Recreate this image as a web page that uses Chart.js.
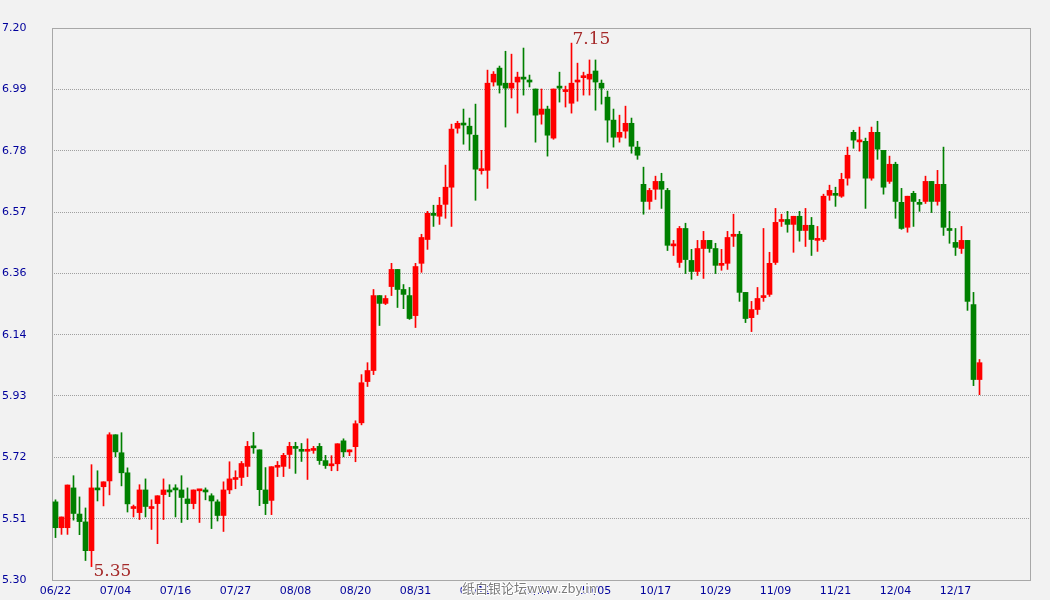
<!DOCTYPE html>
<html>
<head>
<meta charset="utf-8">
<title>纸白银 K线</title>
<script src="https://cdn.jsdelivr.net/npm/chart.js@4.4.1/dist/chart.umd.min.js"></script>
<style>
  html, body { margin: 0; padding: 0; background: #f2f2f2; }
  canvas { display: block; }
</style>
</head>
<body>
<canvas id="chart" width="1050" height="600"></canvas>
<script>
const xTickLabels = ['06/22','07/04','07/16','07/27','08/08','08/20','08/31','09/12',
                     '09/24','10/05','10/17','10/29','11/09','11/21','12/04','12/17']
const yTickLabels = ['5.30','5.51','5.72','5.93','6.14','6.36','6.57','6.78','6.99','7.20']

const opens = [
  5.569,5.480,5.480,5.617,5.527,5.500,5.401,5.617,5.621,5.641,
  5.800,5.738,5.669,5.546,5.532,5.610,5.546,5.563,5.594,5.610,
  5.617,5.610,5.579,5.563,5.607,5.610,5.590,5.569,5.522,5.610,
  5.646,5.653,5.691,5.759,5.748,5.610,5.574,5.688,5.691,5.732,
  5.760,5.748,5.743,5.746,5.760,5.711,5.693,5.700,5.779,5.741,
  5.759,5.841,5.983,6.021,6.279,6.252,6.310,6.369,6.300,6.279,
  6.210,6.390,6.472,6.562,6.552,6.593,6.652,6.855,6.872,6.862,
  6.831,6.709,6.710,7.014,7.062,7.010,6.993,7.014,7.031,7.021,
  6.990,6.903,6.921,6.821,7.000,6.981,6.941,7.014,7.029,7.024,
  7.052,7.010,6.962,6.883,6.824,6.845,6.872,6.790,6.662,6.603,
  6.645,6.672,6.641,6.450,6.393,6.510,6.400,6.362,6.441,6.469,
  6.441,6.383,6.390,6.483,6.490,6.290,6.203,6.231,6.272,6.283,
  6.393,6.534,6.541,6.524,6.552,6.503,6.521,6.469,6.472,6.624,
  6.631,6.621,6.683,6.841,6.808,6.810,6.683,6.841,6.779,6.672,
  6.731,6.600,6.514,6.631,6.600,6.603,6.672,6.603,6.662,6.510,
  6.462,6.441,6.469,6.248,5.990
]
const highs = [
  5.576,5.517,5.627,5.659,5.586,5.548,5.697,5.676,5.638,5.807,
  5.800,5.807,5.686,5.558,5.628,5.648,5.576,5.590,5.648,5.628,
  5.628,5.659,5.617,5.610,5.612,5.617,5.597,5.576,5.638,5.707,
  5.676,5.708,5.777,5.808,5.748,5.687,5.690,5.708,5.736,5.774,
  5.774,5.770,5.786,5.760,5.770,5.729,5.728,5.769,5.786,5.748,
  5.848,6.007,6.048,6.300,6.279,6.279,6.390,6.369,6.317,6.307,
  6.390,6.490,6.569,6.590,6.617,6.728,6.869,6.879,6.921,6.890,
  6.938,6.779,7.055,7.050,7.069,7.120,7.110,7.048,7.131,7.038,
  6.990,6.990,6.931,6.990,7.048,7.000,7.148,7.079,7.048,7.090,
  7.090,7.021,6.983,6.921,6.900,6.931,6.890,6.810,6.721,6.648,
  6.690,6.700,6.648,6.469,6.517,6.528,6.438,6.469,6.500,6.469,
  6.459,6.438,6.500,6.559,6.500,6.290,6.259,6.307,6.510,6.428,
  6.579,6.559,6.569,6.552,6.569,6.579,6.548,6.517,6.628,6.659,
  6.652,6.700,6.790,6.848,6.859,6.821,6.859,6.879,6.779,6.759,
  6.738,6.648,6.621,6.638,6.610,6.690,6.672,6.710,6.790,6.569,
  6.510,6.517,6.469,6.290,6.059
]
const lows = [
  5.446,5.457,5.457,5.506,5.456,5.367,5.346,5.572,5.555,5.593,
  5.724,5.624,5.534,5.517,5.508,5.517,5.474,5.425,5.508,5.587,
  5.517,5.498,5.508,5.545,5.498,5.576,5.477,5.503,5.467,5.597,
  5.614,5.625,5.656,5.736,5.556,5.525,5.525,5.656,5.656,5.684,
  5.667,5.708,5.646,5.736,5.698,5.684,5.676,5.676,5.724,5.728,
  5.707,5.834,5.966,6.007,6.176,6.248,6.279,6.238,6.234,6.197,
  6.169,6.359,6.438,6.517,6.524,6.545,6.517,6.838,6.800,6.779,
  6.607,6.697,6.648,7.000,6.976,6.859,6.959,6.907,6.969,6.997,
  6.807,6.869,6.759,6.817,6.945,6.928,6.907,6.948,6.969,6.969,
  6.917,6.938,6.807,6.790,6.807,6.821,6.769,6.748,6.559,6.576,
  6.610,6.579,6.434,6.417,6.376,6.355,6.335,6.348,6.338,6.428,
  6.355,6.366,6.369,6.448,6.259,6.186,6.155,6.214,6.259,6.276,
  6.386,6.517,6.497,6.428,6.466,6.448,6.417,6.431,6.465,6.607,
  6.586,6.617,6.659,6.786,6.776,6.579,6.676,6.748,6.628,6.665,
  6.545,6.507,6.497,6.517,6.569,6.596,6.565,6.590,6.486,6.459,
  6.417,6.424,6.228,5.969,5.938
]
const closes = [
  5.480,5.517,5.627,5.529,5.501,5.401,5.617,5.610,5.638,5.800,
  5.741,5.669,5.562,5.549,5.610,5.553,5.548,5.590,5.610,5.603,
  5.610,5.584,5.563,5.610,5.610,5.603,5.572,5.522,5.610,5.648,
  5.648,5.701,5.760,5.755,5.611,5.563,5.690,5.690,5.729,5.760,
  5.753,5.743,5.748,5.748,5.711,5.694,5.700,5.769,5.741,5.748,
  5.838,5.979,6.021,6.279,6.252,6.269,6.369,6.300,6.283,6.200,
  6.379,6.479,6.562,6.555,6.590,6.652,6.852,6.872,6.866,6.835,
  6.714,6.711,7.010,7.041,7.003,6.993,7.010,7.031,7.024,7.014,
  6.900,6.921,6.831,6.990,6.993,6.983,7.010,7.021,7.031,7.041,
  7.014,6.993,6.883,6.824,6.841,6.872,6.793,6.762,6.603,6.641,
  6.672,6.645,6.452,6.452,6.510,6.403,6.362,6.441,6.469,6.441,
  6.383,6.390,6.479,6.490,6.290,6.200,6.231,6.269,6.279,6.390,
  6.531,6.541,6.524,6.552,6.503,6.521,6.472,6.472,6.621,6.641,
  6.624,6.679,6.762,6.814,6.810,6.683,6.841,6.783,6.652,6.731,
  6.603,6.510,6.621,6.603,6.593,6.672,6.603,6.662,6.514,6.503,
  6.445,6.469,6.259,5.990,6.048
]

const yMin = 5.30
const yMax = 7.20
const red = '#ff0000'
const green = '#008000'
const navy = '#00009c'

const candleColor = ctx => closes[ctx.dataIndex] >= opens[ctx.dataIndex] ? red : green

// frame round the plot and the watermark under the axis
const framePlugin = {
  id: 'frame',
  beforeDatasetsDraw(chart) {
    const {ctx, chartArea: a} = chart
    ctx.save()
    ctx.strokeStyle = '#a8a8a8'
    ctx.lineWidth = 1
    ctx.strokeRect(Math.round(a.left) + 0.5, Math.round(a.top) + 0.5,
                   Math.round(a.right - a.left), Math.round(a.bottom - a.top))
    ctx.restore()
  },
  afterDraw(chart) {
    const ctx = chart.ctx
    ctx.save()
    ctx.font = '13px "Noto Sans CJK SC"'
    ctx.lineWidth = 2
    ctx.strokeStyle = '#ffffff'
    ctx.fillStyle = '#7a7a7a'
    ctx.strokeText('纸白银论坛www.zby.in', 462, 593)
    ctx.fillText('纸白银论坛www.zby.in', 462, 593)
    ctx.restore()
  }
}

// highest high and lowest low written next to their candles
const extremesPlugin = {
  id: 'extremes',
  afterDatasetsDraw(chart) {
    const {ctx, scales: {x, y}} = chart
    const hi = Math.max(...highs)
    const lo = Math.min(...lows)
    const hiIdx = highs.indexOf(hi)
    const loIdx = lows.indexOf(lo)
    ctx.save()
    ctx.font = '17px "DejaVu Serif"'
    ctx.fillStyle = '#a52a2a'
    ctx.textAlign = 'left'
    ctx.textBaseline = 'alphabetic'
    ctx.fillText(hi.toFixed(2), x.getPixelForValue(hiIdx) + 1, y.getPixelForValue(hi) + 0.5)
    ctx.fillText(lo.toFixed(2), x.getPixelForValue(loIdx) + 2, y.getPixelForValue(lo) + 9.5)
    ctx.restore()
  }
}

Chart.defaults.font.family = '"DejaVu Sans", Verdana, sans-serif'

const ctx = document.getElementById('chart').getContext('2d')
const myChart = new Chart(ctx, {
  type: 'bar',
  data: {
    datasets: [
      {
        label: 'body',
        data: opens.map((o, i) => ({x: i, y: [o, closes[i]]})),
        backgroundColor: candleColor,
        borderWidth: 0,
        barThickness: 5,
        minBarLength: 2,
        grouped: false
      },
      {
        label: 'wick',
        data: highs.map((h, i) => ({x: i, y: [lows[i], h]})),
        backgroundColor: candleColor,
        borderWidth: 0,
        barThickness: 1,
        grouped: false
      }
    ]
  },
  options: {
    responsive: false,
    animation: false,
    layout: { padding: { left: 2, top: 28, right: 20, bottom: 0 } },
    plugins: { legend: { display: false }, tooltip: { enabled: false } },
    scales: {
      x: {
        type: 'linear',
        offset: false,
        min: -0.583,
        max: 162.417,
        grid: { display: false, drawTicks: false, offset: false },
        border: { display: false },
        afterBuildTicks: s => { s.ticks = xTickLabels.map((t, k) => ({value: k * 10})) },
        afterFit: s => { s.height = 20 },
        ticks: {
          autoSkip: false,
          maxRotation: 0,
          padding: 5,
          color: navy,
          font: { size: 11 },
          callback: v => xTickLabels[Math.round(v / 10)]
        }
      },
      y: {
        min: yMin,
        max: yMax,
        grid: { color: '#a0a0a0', drawTicks: false },
        border: { display: false, dash: [1, 1] },
        afterBuildTicks: s => {
          s.ticks = yTickLabels.map((t, k) => ({value: yMin + k * (yMax - yMin) / (yTickLabels.length - 1)}))
        },
        afterFit: s => { s.width = 50 },
        ticks: {
          crossAlign: 'far',
          padding: 0,
          color: navy,
          font: { size: 11 },
          callback: (v, i) => yTickLabels[i]
        }
      }
    }
  },
  plugins: [framePlugin, extremesPlugin]
})
</script>
</body>
</html>
